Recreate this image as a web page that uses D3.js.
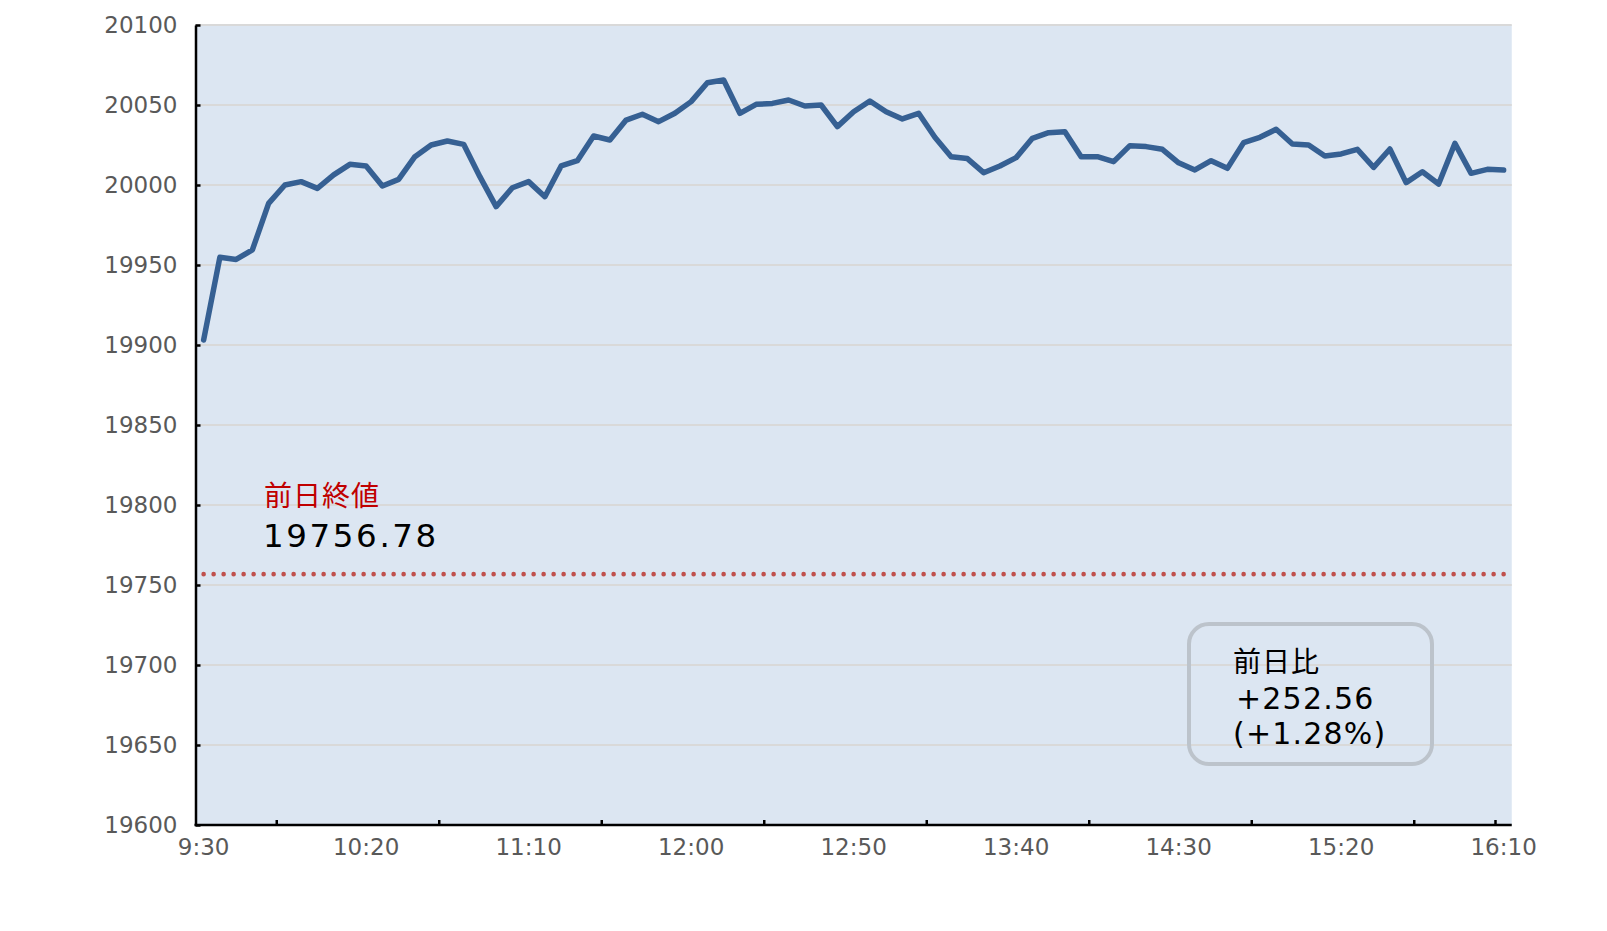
<!DOCTYPE html>
<html>
<head>
<meta charset="utf-8">
<script src="https://cdn.jsdelivr.net/npm/d3@7"></script>
<style>
  html, body { margin: 0; padding: 0; background: #ffffff; }
  svg { display: block; }
  text { font-family: "DejaVu Sans", "Noto Sans CJK JP", sans-serif; }
</style>
</head>
<body>
<svg id="chart" width="1607" height="931"></svg>
<script>
const times = [
  "9:30","9:35","9:40","9:45","9:50","9:55","10:00","10:05","10:10","10:15",
  "10:20","10:25","10:30","10:35","10:40","10:45","10:50","10:55","11:00","11:05",
  "11:10","11:15","11:20","11:25","11:30","11:35","11:40","11:45","11:50","11:55",
  "12:00","12:05","12:10","12:15","12:20","12:25","12:30","12:35","12:40","12:45",
  "12:50","12:55","13:00","13:05","13:10","13:15","13:20","13:25","13:30","13:35",
  "13:40","13:45","13:50","13:55","14:00","14:05","14:10","14:15","14:20","14:25",
  "14:30","14:35","14:40","14:45","14:50","14:55","15:00","15:05","15:10","15:15",
  "15:20","15:25","15:30","15:35","15:40","15:45","15:50","15:55","16:00","16:05",
  "16:10"
];
const values = [
  19903.1, 19954.8, 19953.5, 19959.4, 19988.5, 20000.0, 20002.1, 19997.9, 20006.3, 20012.9,
  20011.9, 19999.4, 20003.5, 20017.7, 20025.0, 20027.5, 20025.4, 20005.2, 19986.5, 19998.3,
  20002.1, 19992.7, 20011.9, 20015.2, 20030.6, 20028.1, 20040.6, 20044.2, 20039.6, 20044.8,
  20052.1, 20063.9, 20065.6, 20044.8, 20050.4, 20051.0, 20053.1, 20049.4, 20050.0, 20036.5,
  20045.8, 20052.5, 20045.8, 20041.3, 20044.8, 20029.8, 20017.7, 20016.5, 20007.7, 20011.9,
  20017.1, 20029.2, 20032.7, 20033.3, 20017.7, 20017.7, 20014.6, 20024.6, 20024.0, 20022.3,
  20013.9, 20009.4, 20015.2, 20010.4, 20026.5, 20029.8, 20034.8, 20025.6, 20025.0, 20018.1,
  20019.4, 20022.3, 20011.0, 20022.5, 20001.5, 20008.3, 20000.6, 20026.0, 20007.3, 20009.8,
  20009.3
];
const prevClose = 19756.78;
const prevCloseLabel = "前日終値";
const prevCloseText = "19756.78";
const changeLines = ["前日比", "+252.56", "(+1.28%)"];
const xTickLabels = ["9:30","10:20","11:10","12:00","12:50","13:40","14:30","15:20","16:10"];
const xTickMarkBoundaries = [5, 15, 25, 35, 45, 55, 65, 75, 80];
const yTicks = [19600, 19650, 19700, 19750, 19800, 19850, 19900, 19950, 20000, 20050, 20100];

const plot = { left: 195.5, right: 1511.75, top: 25, bottom: 825 };
const svg = d3.select("#chart");

const x = d3.scaleBand().domain(times).range([plot.left, plot.right]).padding(0);
const y = d3.scaleLinear().domain([19600, 20100]).range([plot.bottom, plot.top]);
const cx = t => x(t) + x.bandwidth() / 2;

// background
svg.append("rect")
  .attr("x", plot.left).attr("y", plot.top)
  .attr("width", plot.right - plot.left).attr("height", plot.bottom - plot.top)
  .attr("fill", "#dce6f2");

// gridlines
svg.append("g").selectAll("line").data(yTicks.filter(v => v !== 19600)).join("line")
  .attr("x1", plot.left).attr("x2", plot.right)
  .attr("y1", d => y(d)).attr("y2", d => y(d))
  .attr("stroke", "#d9d9d9").attr("stroke-width", 2);

// previous close dotted line
svg.append("line")
  .attr("x1", cx(times[0])).attr("x2", cx(times[times.length - 1]) + 1)
  .attr("y1", y(prevClose)).attr("y2", y(prevClose))
  .attr("stroke", "#c0504d").attr("stroke-width", 4.6)
  .attr("stroke-linecap", "round").attr("stroke-dasharray", "0 10");

// main line
const line = d3.line().x((d, i) => cx(times[i])).y(d => y(d));
svg.append("path").datum(values)
  .attr("d", line)
  .attr("fill", "none")
  .attr("stroke", "#366093")
  .attr("stroke-width", 5.5)
  .attr("stroke-linejoin", "round")
  .attr("stroke-linecap", "round");

// y axis
const yAxis = d3.axisLeft(y).tickValues(yTicks).tickFormat(d3.format("d"))
  .tickSizeInner(-5).tickSizeOuter(0).tickPadding(18);
const yg = svg.append("g").attr("transform", `translate(${plot.left},0)`).call(yAxis);
yg.select(".domain").attr("stroke", "#000").attr("stroke-width", 2.5);
yg.selectAll(".tick line").attr("stroke", "#000").attr("stroke-width", 2.5);
yg.selectAll(".tick text").attr("fill", "#595959").style("font-size", "23px")
  .style("font-family", "'DejaVu Sans', sans-serif");

// x axis labels
const xAxis = d3.axisBottom(x).tickValues(xTickLabels).tickSize(0).tickPadding(14);
const xg = svg.append("g").attr("transform", `translate(0,${plot.bottom})`).call(xAxis);
xg.select(".domain").remove();
xg.selectAll(".tick text").attr("fill", "#595959").style("font-size", "23px")
  .style("font-family", "'DejaVu Sans', sans-serif");
// x axis line and tick marks at category boundaries
svg.append("line")
  .attr("x1", plot.left - 1).attr("x2", plot.right)
  .attr("y1", plot.bottom).attr("y2", plot.bottom)
  .attr("stroke", "#000").attr("stroke-width", 2.5);
svg.append("g").selectAll("line").data(xTickMarkBoundaries).join("line")
  .attr("x1", k => x(times[k])).attr("x2", k => x(times[k]))
  .attr("y1", plot.bottom).attr("y2", plot.bottom - 5)
  .attr("stroke", "#000").attr("stroke-width", 2.5);

// previous close annotation
svg.append("text")
  .attr("x", 264).attr("y", 506)
  .attr("fill", "#c00000").style("font-size", "28px")
  .style("letter-spacing", "1px")
  .style("font-family", "'Noto Sans CJK JP', sans-serif")
  .text(prevCloseLabel);
svg.append("text")
  .attr("x", 263).attr("y", 547)
  .attr("fill", "#000").style("font-size", "32.5px")
  .style("letter-spacing", "2.6px")
  .text(prevCloseText);

// change box
svg.append("rect")
  .attr("x", 1189).attr("y", 624).attr("width", 243).attr("height", 140)
  .attr("rx", 20).attr("ry", 20)
  .attr("fill", "none").attr("stroke", "#bcc3cb").attr("stroke-width", 4);
const lineY = [672, 709, 744];
const lineX = [1233, 1236, 1233];
svg.append("g").selectAll("text").data(changeLines).join("text")
  .attr("x", (d, i) => lineX[i]).attr("y", (d, i) => lineY[i])
  .attr("fill", "#000")
  .style("font-size", (d, i) => i === 0 ? "28px" : "30px")
  .style("letter-spacing", (d, i) => i === 0 ? "1px" : "1.2px")
  .style("font-family", (d, i) => i === 0 ? "'Noto Sans CJK JP', sans-serif" : "'DejaVu Sans', sans-serif")
  .text(d => d);
</script>
</body>
</html>
